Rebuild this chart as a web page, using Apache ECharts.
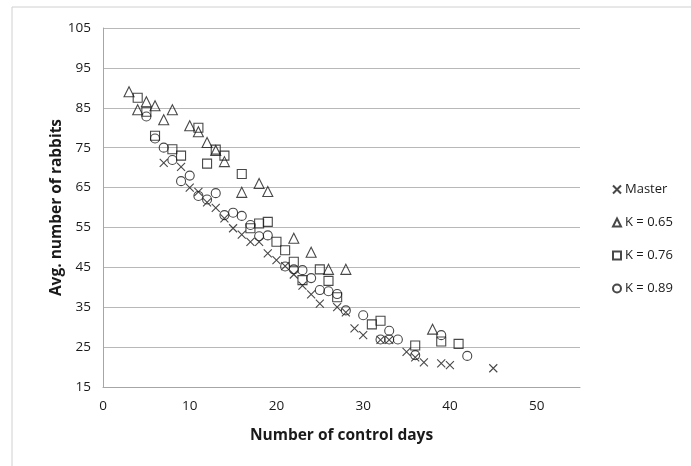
<!DOCTYPE html>
<html>
<head>
<meta charset="utf-8">
<script src="https://cdn.jsdelivr.net/npm/echarts@6/dist/echarts.min.js"></script>
<style>
  html, body { margin: 0; padding: 0; background: #fff; }
  #chart { width: 691px; height: 466px; }
</style>
</head>
<body>
<div id="chart"></div>
<script>
// 数据: [控制天数, 平均兔子数]
var masterData = [
  [7, 71.2], [9, 70.2], [10, 65], [11, 63.9], [12, 61.3], [13, 59.9], [14, 57.3],
  [15, 54.8], [16, 53.2], [17, 51.4], [18, 51.4], [19, 48.5], [20, 46.8], [21, 45.3],
  [22, 43.2], [23, 40.4], [24, 38.2], [25, 35.9], [27, 35], [28, 33.7], [29, 29.7],
  [30, 28], [32, 26.8], [33, 26.8], [35, 23.8], [36, 22.4], [37, 21.2], [39, 20.9],
  [40, 20.5], [45, 19.7]
];
var k065Data = [
  [3, 89], [4, 84.5], [5, 86.5], [6, 85.5], [7, 82], [8, 84.5], [10, 80.5], [11, 79],
  [12, 76.3], [13, 74.3], [14, 71.5], [16, 63.8], [18, 66], [19, 64], [22, 52.3],
  [24, 48.8], [26, 44.5], [28, 44.5], [38, 29.5]
];
var k076Data = [
  [4, 87.5], [5, 84], [6, 78], [8, 74.6], [9, 73], [11, 80], [12, 71], [13, 74.5],
  [14, 73], [16, 68.4], [17, 54.8], [18, 56], [19, 56.4], [20, 51.4], [21, 49.3],
  [22, 46.4], [23, 41.8], [25, 44.5], [26, 41.6], [27, 37.5], [31, 30.7], [32, 31.6],
  [36, 25.4], [39, 26.4], [41, 25.8]
];
var k089Data = [
  [5, 82.8], [6, 77.3], [7, 75], [8, 71.9], [9, 66.6], [10, 68], [11, 62.9], [12, 62],
  [13, 63.6], [14, 58.1], [15, 58.7], [16, 57.9], [17, 55.6], [18, 52.8], [19, 53],
  [21, 45.2], [22, 44.5], [23, 44.3], [24, 42.3], [25, 39.3], [26, 39], [27, 38.3],
  [28, 34.2], [30, 33], [32, 26.9], [33, 29.1], [33, 26.9], [34, 26.9], [36, 23],
  [39, 28], [42, 22.8]
];
var seriesNames = ['Master', 'K = 0.65', 'K = 0.76', 'K = 0.89'];

var font = 'Open Sans';
var ink = '#1a1a1a';
var crossPath = 'path://M0,0L10,10M10,0L0,10';

function markerSeries(name, data, symbol, size) {
  return {
    name: name,
    type: 'scatter',
    data: data,
    symbol: symbol,
    symbolSize: size,
    itemStyle: { color: 'rgba(0,0,0,0)', borderColor: ink, borderWidth: 1.1 },
    emphasis: { disabled: true }
  };
}

var chart = echarts.init(document.getElementById('chart'));
chart.setOption({
  animation: false,
  backgroundColor: '#fff',
  textStyle: { fontFamily: font },
  graphic: [{
    type: 'rect',
    shape: { x: 12, y: 7, width: 700, height: 480 },
    style: { fill: 'none', stroke: '#d0d0d0', lineWidth: 1 },
    silent: true
  }],
  grid: { left: 103, right: 111, top: 28, bottom: 79 },
  legend: {
    orient: 'vertical',
    left: 607,
    top: 178,
    itemWidth: 8,
    itemHeight: 8,
    itemGap: 20,
    data: [
      { name: 'Master', icon: crossPath },
      { name: 'K = 0.65', icon: 'triangle' },
      { name: 'K = 0.76', icon: 'rect' },
      { name: 'K = 0.89', icon: 'circle' }
    ],
    textStyle: { fontFamily: font, fontSize: 13, color: ink, padding: [0, 0, 0, -1] }
  },
  xAxis: {
    type: 'value',
    min: 0,
    max: 55,
    interval: 10,
    name: 'Number of control days',
    nameLocation: 'middle',
    nameGap: 41,
    nameMoveOverlap: false,
    nameTextStyle: { fontFamily: font, fontSize: 15.5, fontWeight: 'bold', color: ink },
    axisLine: { show: true, lineStyle: { color: '#a6a6a6' } },
    axisTick: { show: false },
    splitLine: { show: false },
    axisLabel: { fontSize: 13.5, color: ink, margin: 12, showMaxLabel: false }
  },
  yAxis: {
    type: 'value',
    min: 15,
    max: 105,
    interval: 10,
    name: 'Avg. number of rabbits',
    nameLocation: 'middle',
    nameGap: 38,
    nameMoveOverlap: false,
    nameTextStyle: { fontFamily: font, fontSize: 15.5, fontWeight: 'bold', color: ink },
    axisLine: { show: true, lineStyle: { color: '#a6a6a6' } },
    axisTick: { show: false },
    splitLine: { show: true, lineStyle: { color: '#b8b8b8', width: 1 } },
    axisLabel: { fontSize: 13.5, color: ink, margin: 12 }
  },
  series: [
    markerSeries(seriesNames[0], masterData, crossPath, 8),
    markerSeries(seriesNames[1], k065Data, 'triangle', 10),
    markerSeries(seriesNames[2], k076Data, 'rect', 9),
    markerSeries(seriesNames[3], k089Data, 'circle', 9)
  ]
});
</script>
</body>
</html>
